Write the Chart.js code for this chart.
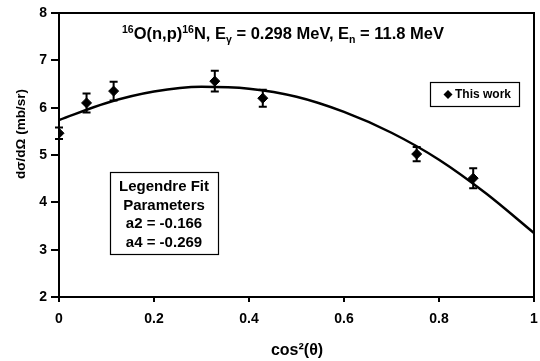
<!DOCTYPE html>
<html>
<head>
<meta charset="utf-8">
<script src="https://cdn.jsdelivr.net/npm/chart.js@4.4.0/dist/chart.umd.min.js"></script>
<style>
  html, body { margin: 0; padding: 0; background: #fff; }
  #wrap { width: 540px; height: 361px; }
</style>
</head>
<body>
<div id="wrap"><canvas id="chart" width="540" height="361"></canvas></div>
<script>
  // measured points (cos^2 theta, cross section, error)
  const cosSq = [0, 0.058, 0.115, 0.328, 0.429, 0.753, 0.872];
  const sigma = [5.46, 6.10, 6.35, 6.56, 6.20, 5.02, 4.51];
  const sigmaErr = [0.12, 0.20, 0.20, 0.22, 0.18, 0.15, 0.21];

  // Legendre fit curve
  const fitX = [0, 0.1, 0.2, 0.3, 0.4, 0.5, 0.6, 0.7, 0.8, 0.9, 1.0];
  const fitY = [5.74, 6.10, 6.34, 6.44, 6.40, 6.23, 5.91, 5.47, 4.90, 4.18, 3.35];

  const xTicks = [0, 0.2, 0.4, 0.6, 0.8, 1];
  const yTicks = [2, 3, 4, 5, 6, 7, 8];
  const fitText = ['Legendre Fit', 'Parameters', 'a2 = -0.166', 'a4 = -0.269'];

  const FONT = '"Liberation Sans", Arial, sans-serif';

  // error bars, frame, titles and boxes
  const extras = {
    id: 'extras',
    afterDatasetsDraw(chart) {
      const ctx = chart.ctx;
      const xs = chart.scales.x, ys = chart.scales.y;
      const area = chart.chartArea;
      ctx.save();
      ctx.strokeStyle = '#000';
      ctx.fillStyle = '#000';
      ctx.lineWidth = 2;
      cosSq.forEach((c, i) => {
        const px = xs.getPixelForValue(c);
        const top = ys.getPixelForValue(sigma[i] + sigmaErr[i]);
        const bot = ys.getPixelForValue(sigma[i] - sigmaErr[i]);
        ctx.beginPath();
        ctx.moveTo(px, top); ctx.lineTo(px, bot);
        ctx.moveTo(px - 4, top); ctx.lineTo(px + 4, top);
        ctx.moveTo(px - 4, bot); ctx.lineTo(px + 4, bot);
        ctx.stroke();
      });

      // frame top and right
      ctx.beginPath();
      ctx.moveTo(area.left, area.top);
      ctx.lineTo(area.right, area.top);
      ctx.lineTo(area.right, area.bottom);
      ctx.stroke();

      // title with sub/superscripts
      const runs = [
        ['16', 'sup'], ['O(n,p)', ''], ['16', 'sup'], ['N, E', ''], ['\u03b3', 'sub'],
        [' = 0.298 MeV, E', ''], ['n', 'sub'], [' = 11.8 MeV', '']
      ];
      const big = 'bold 16.5px ' + FONT, small = 'bold 10.5px ' + FONT;
      let total = 0;
      runs.forEach(r => { ctx.font = r[1] ? small : big; total += ctx.measureText(r[0]).width; });
      let x = 283 - total / 2;
      const base = 39;
      ctx.textBaseline = 'alphabetic';
      ctx.textAlign = 'left';
      runs.forEach(r => {
        ctx.font = r[1] ? small : big;
        const dy = r[1] === 'sup' ? -6 : (r[1] === 'sub' ? 4 : 0);
        ctx.fillText(r[0], x, base + dy);
        x += ctx.measureText(r[0]).width;
      });

      // axis titles
      ctx.textAlign = 'center';
      ctx.textBaseline = 'middle';
      ctx.font = 'bold 16px ' + FONT;
      ctx.fillText('cos\u00b2(\u03b8)', 297, 351);
      ctx.save();
      ctx.translate(21, 134);
      ctx.rotate(-Math.PI / 2);
      ctx.font = 'bold 13.5px ' + FONT;
      ctx.fillText('d\u03c3/d\u03a9 (mb/sr)', 0, 0);
      ctx.restore();

      // legend box
      ctx.lineWidth = 1.2;
      ctx.strokeRect(430.5, 82.5, 89, 24);
      ctx.beginPath();
      ctx.moveTo(448, 90); ctx.lineTo(452.5, 94.5); ctx.lineTo(448, 99); ctx.lineTo(443.5, 94.5);
      ctx.closePath(); ctx.fill();
      ctx.font = 'bold 12px ' + FONT;
      ctx.textAlign = 'left';
      ctx.fillText('This work', 455, 95);

      // fit parameter box
      ctx.strokeRect(110.5, 172.5, 108, 82);
      ctx.font = 'bold 15px ' + FONT;
      ctx.textAlign = 'center';
      fitText.forEach((t, i) => ctx.fillText(t, 164, 187 + i * 18.5));
      ctx.restore();
    }
  };

  new Chart(document.getElementById('chart'), {
    type: 'scatter',
    data: {
      datasets: [
        {
          label: 'Legendre fit',
          data: fitX.map((x, i) => ({ x, y: fitY[i] })),
          showLine: true,
          borderColor: '#000',
          borderWidth: 2.5,
          pointRadius: 0,
          tension: 0.4,
          cubicInterpolationMode: 'monotone'
        },
        {
          label: 'This work',
          data: cosSq.map((x, i) => ({ x, y: sigma[i] })),
          showLine: false,
          pointStyle: 'rectRot',
          pointRadius: 5,
          backgroundColor: '#000',
          borderColor: '#000',
          borderWidth: 1
        }
      ]
    },
    options: {
      responsive: false,
      animation: false,
      layout: { padding: { top: 13, right: -3, left: 0, bottom: 0 } },
      plugins: { legend: { display: false }, tooltip: { enabled: false } },
      scales: {
        x: {
          type: 'linear', min: 0, max: 1,
          afterBuildTicks: s => { s.ticks = xTicks.map(v => ({ value: v })); },
          afterFit: s => { s.height = 64; s.paddingRight = 0; s.paddingLeft = 0; },
          ticks: {
            color: '#000', padding: 9,
            font: { family: FONT, size: 14, weight: 'bold' },
            callback: v => String(v)
          },
          grid: { drawOnChartArea: false, drawTicks: true, tickLength: 5, color: '#000', lineWidth: 2 },
          border: { color: '#000', width: 2 }
        },
        y: {
          type: 'linear', min: 2, max: 8,
          afterBuildTicks: s => { s.ticks = yTicks.map(v => ({ value: v })); },
          afterFit: s => { s.width = 59; s.paddingTop = 0; s.paddingBottom = 0; },
          ticks: {
            color: '#000', padding: 4,
            font: { family: FONT, size: 14, weight: 'bold' }
          },
          grid: { drawOnChartArea: false, drawTicks: true, tickLength: 8, color: '#000', lineWidth: 2 },
          border: { color: '#000', width: 2 }
        }
      }
    },
    plugins: [extras]
  });
</script>
</body>
</html>
